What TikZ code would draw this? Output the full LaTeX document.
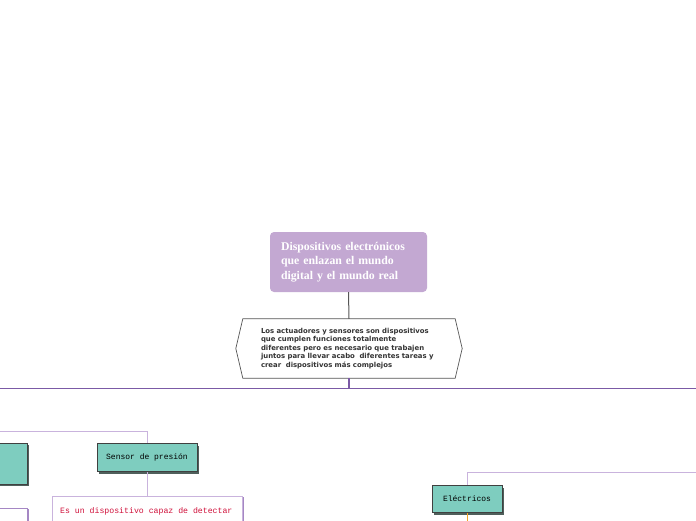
\documentclass[tikz,border=0pt]{standalone}
\usepackage{fontspec}
\setmainfont{Liberation Serif}
\newfontfamily\hexfont{DejaVu Sans}
\newfontfamily\monofont{Liberation Mono}
\usetikzlibrary{shadows,calc}
\definecolor{titlefill}{HTML}{C3A8D2}
\definecolor{tealfill}{HTML}{7ECDBF}
\definecolor{tealshadow}{HTML}{4F5F5B}
\definecolor{lavline}{HTML}{C9B3DD}
\definecolor{mainpurple}{HTML}{7B5AA6}
\definecolor{darkline}{HTML}{555555}
\definecolor{redtext}{HTML}{D0103A}
\definecolor{orangeline}{HTML}{F5A623}
\definecolor{boxshadow}{HTML}{A587C4}
\tikzset{
  titlebox/.style={rectangle, rounded corners=4pt, fill=titlefill, minimum width=157pt, minimum height=60pt, text width=135pt, align=left, inner sep=0pt, text=white, font=\bfseries\fontsize{11.8}{14.5}\selectfont},
  hexbox/.style={rectangle, minimum width=212pt, minimum height=59pt, text width=176pt, align=left, inner sep=0pt, text=black!80, font=\hexfont\bfseries\fontsize{6.9}{8.5}\selectfont},
  tealbox/.style={rectangle, draw=black!75, line width=0.8pt, fill=tealfill, inner sep=0pt, font=\monofont\fontsize{8}{10}\selectfont, drop shadow={shadow xshift=2pt, shadow yshift=-2pt, fill=tealshadow, opacity=1}},
  descbox/.style={rectangle, draw=lavline, line width=0.8pt, fill=white, inner sep=0pt, drop shadow={shadow xshift=2pt, shadow yshift=-1pt, fill=boxshadow, opacity=1}},
  lavconn/.style={draw=lavline, line width=0.9pt},
}
\begin{document}
\begin{tikzpicture}[x=1pt, y=-1pt]
\path[use as bounding box, clip] (0,0) rectangle (696,520);
\fill[white] (0,0) rectangle (696,520);

% main horizontal line
\coordinate (L) at (0,388.5);
\coordinate (R) at (696,388.5);
\coordinate (M) at (349,388.5);
\draw[mainpurple, line width=1.3pt] (L) -- (R);

% title
\node[titlebox] (title) at (348.5,262) {Dispositivos electrónicos\\que enlazan el mundo\\digital y el mundo real};

% hexagon
\node[hexbox] (hex) at (349,348.5) {Los actuadores y sensores son dispositivos\\que cumplen funciones totalmente\\diferentes pero es necesario que trabajen\\juntos para llevar acabo\ \ diferentes tareas y\\crear\ \ dispositivos más complejos};
\draw[darkline, line width=0.7pt, fill=none] (hex.north west) -- (hex.north east) -- ([xshift=7pt]hex.east) -- (hex.south east) -- (hex.south west) -- ([xshift=-7pt]hex.west) -- cycle;

\draw[darkline, line width=1pt] (title.south) -- (hex.north);
\draw[mainpurple, line width=1.3pt] (hex.south) -- (M);

% left branch
\coordinate (b1) at (0,431);
\node[tealbox, minimum width=100pt, minimum height=28pt] (sensor) at (147,457.5) {Sensor de presión};
\draw[lavconn] (b1) -| (sensor.north);

\node[descbox, anchor=north, minimum width=190pt, minimum height=60pt] (desc) at (147,496) {};
\node[anchor=base west, inner sep=0pt, text=redtext, font=\monofont\fontsize{8.2}{10}\selectfont] (desctext) at (60,513) {Es un dispositivo capaz de detectar};
\draw[lavconn] (sensor.south) -- (desc.north);

% partial boxes on left
\node[tealbox, minimum width=66pt, minimum height=41pt] (leftbox) at (-6,463.5) {};
\node[descbox, draw=boxshadow, minimum width=94pt, minimum height=44pt] (leftdesc) at (-20,530) {};

% right branch
\coordinate (r1) at (696,472);
\node[tealbox, minimum width=70pt, minimum height=27pt] (elec) at (467,499) {Eléctricos};
\draw[lavconn] (r1) -| (elec.north);
\coordinate (e2) at (467,525);
\draw[orangeline, line width=0.9pt] (elec.south) -- (e2);
\end{tikzpicture}
\end{document}
